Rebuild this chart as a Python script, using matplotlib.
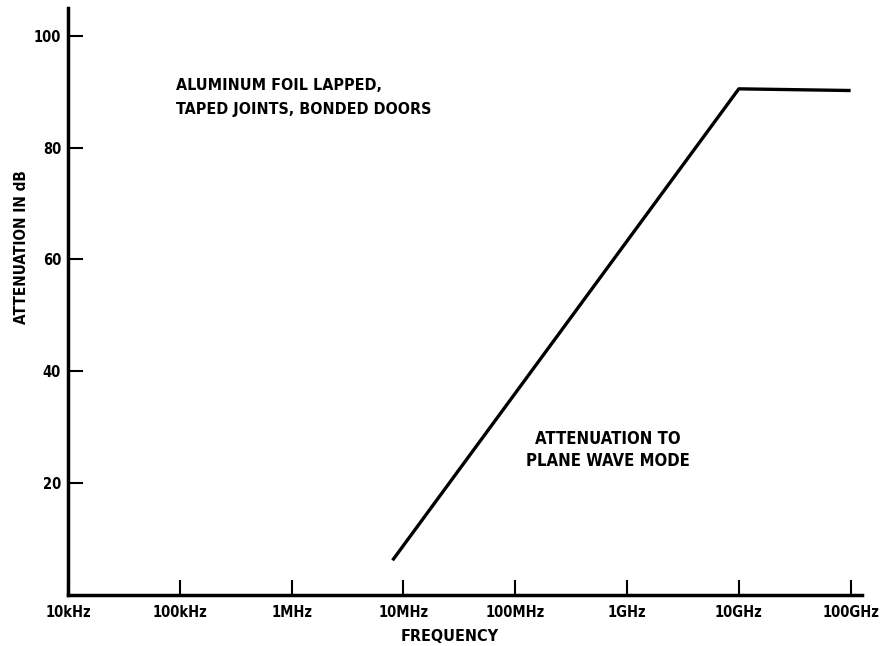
import matplotlib
matplotlib.use("Agg")
import matplotlib.pyplot as plt

plt.rcParams['font.family'] = ['DejaVu Sans']
plt.rcParams['font.stretch'] = 'condensed'

# Data
freq_hz = [8e6, 1e10, 1e11]
atten_db = [6.2, 90.5, 90.2]

x_ticks = [1e4, 1e5, 1e6, 1e7, 1e8, 1e9, 1e10, 1e11]
x_tick_labels = ["10kHz", "100kHz", "1MHz", "10MHz", "100MHz", "1GHz", "10GHz", "100GHz"]
y_ticks = [20, 40, 60, 80, 100]
y_tick_labels = ["20", "40", "60", "80", "100"]

fig = plt.figure(figsize=(8.86, 6.46), dpi=100)
ax = fig.add_axes([0.0767, 0.079, 0.896, 0.909])

ax.plot(freq_hz, atten_db, color='black', linewidth=2.4, solid_capstyle='butt')

ax.set_xscale('log')
ax.set_xlim(1e4, 10**11.1)
ax.set_ylim(0, 105)

ax.spines['top'].set_visible(False)
ax.spines['right'].set_visible(False)
ax.spines['left'].set_linewidth(2.5)
ax.spines['bottom'].set_linewidth(2.5)

ax.set_xticks(x_ticks)
ax.set_xticklabels(x_tick_labels, fontsize=10.5, fontweight='bold')
ax.xaxis.set_minor_locator(matplotlib.ticker.NullLocator())
ax.tick_params(axis='x', direction='in', length=11, width=1.5, pad=7)

ax.set_yticks(y_ticks)
ax.set_yticklabels(y_tick_labels, fontsize=10.5, fontweight='bold')
ax.tick_params(axis='y', direction='in', length=11, width=1.5, pad=5)

ax.set_xlabel("FREQUENCY", fontsize=11.5, fontweight='bold')
ax.xaxis.set_label_coords((450 - 68) / 794, -(629 - 595) / 587)
ax.set_ylabel("ATTENUATION IN dB", fontsize=11, fontweight='bold')
ax.yaxis.set_label_coords(-(68 - 29) / 794, (595 - 247) / 587)

ax.text(9.2e4, 88.9, "ALUMINUM FOIL LAPPED,\nTAPED JOINTS, BONDED DOORS",
        fontsize=11.5, fontweight='bold', ha='left', va='center', linespacing=1.75)
ax.text(6.7e8, 25.9, "ATTENUATION TO\nPLANE WAVE MODE",
        fontsize=12, fontweight='bold', ha='center', va='center', linespacing=1.3)

fig.savefig("out.png", dpi=100)
